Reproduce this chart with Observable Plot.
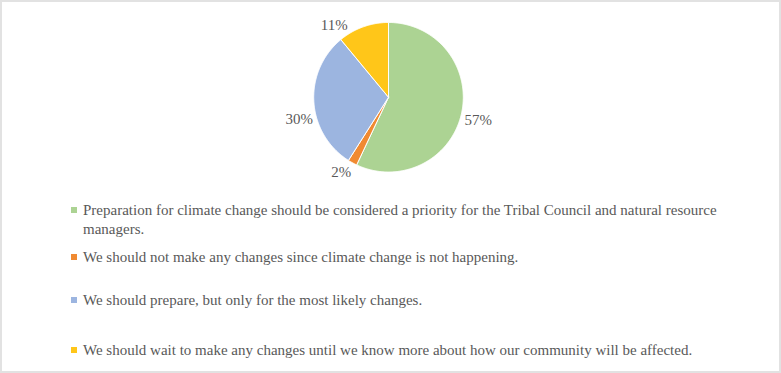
<!DOCTYPE html>
<html>
<head>
<meta charset="utf-8">
<script src="https://cdn.jsdelivr.net/npm/d3@7"></script>
<script src="https://cdn.jsdelivr.net/npm/@observablehq/plot@0.6"></script>
<style>
  html, body { margin: 0; padding: 0; background: #fff; }
  #frame { position: absolute; left: 0; top: 0; width: 777px; height: 369px; border: 2px solid #e2e2e2; background: #fff; overflow: hidden; }
  #chart { position: absolute; left: -2px; top: -2px; }
  .legend { position: absolute; left: 69px; font-family: "Liberation Serif", "Times New Roman", serif; font-size: 15px; color: #595959; line-height: 19px; width: 650px; }
  .legend .sw { position: absolute; left: 0; top: 6px; width: 6px; height: 6px; }
  .legend .tx { margin-left: 12px; display: block; }
</style>
</head>
<body>
<div id="frame"><div id="chart"></div></div>
<script>
const categories = [
  "Preparation for climate change should be considered a priority for the Tribal Council and natural resource managers.",
  "We should not make any changes since climate change is not happening.",
  "We should prepare, but only for the most likely changes.",
  "We should wait to make any changes until we know more about how our community will be affected."
];
const shares = [57, 2, 30, 11];
const labels = ["57%", "2%", "30%", "11%"];
const colors = ["#acd393", "#f08a32", "#9cb5e0", "#ffc619"];

const W = 781, H = 373;
const cx = 389, cy = 97, R = 75;

// pie geometry from data (unit circle, clockwise from top)
const pie = d3.pie().sort(null).value(d => d)(shares);
const polys = [];
pie.forEach((p, i) => {
  polys.push({k: i, x: 0, y: 0});
  const n = Math.max(4, Math.ceil((p.endAngle - p.startAngle) / 0.01));
  for (let j = 0; j <= n; j++) {
    const a = p.startAngle + (p.endAngle - p.startAngle) * j / n;
    polys.push({k: i, x: Math.sin(a), y: Math.cos(a)});
  }
  polys.push({k: i, x: 0, y: 0});
});
// label placement (best-fit outside the rim): radius factor and angular nudge in degrees
const labelR = [1.24, 1.19, 1.23, 1.21];
const labelShift = [2.0, 3.3, -10.5, -17.1];
const labelData = pie.map((p, i) => {
  const a = (p.startAngle + p.endAngle) / 2 + labelShift[i] * Math.PI / 180;
  return {text: labels[i], x: Math.sin(a) * labelR[i], y: Math.cos(a) * labelR[i]};
});

const chart = Plot.plot({
  width: W, height: H,
  margin: 0,
  x: {domain: [-cx / R, (W - cx) / R], range: [0, W], axis: null},
  y: {domain: [cy / R, -(H - cy) / R], range: [0, H], axis: null},
  color: {domain: d3.range(shares.length), range: colors},
  marks: [
    Plot.line(polys, {x: "x", y: "y", z: "k", fill: "k", stroke: "#ffffff", strokeWidth: 1, strokeLinejoin: "round", curve: "linear"}),
    Plot.text(labelData, {x: "x", y: "y", text: "text", fontSize: 15, fill: "#595959", fontFamily: "Liberation Serif, Times New Roman, serif"})
  ]
});
document.getElementById("chart").appendChild(chart);

const rowTops = [201, 248, 291, 341];
const frame = document.getElementById("frame");
categories.forEach((c, i) => {
  const div = document.createElement("div");
  div.className = "legend";
  div.style.top = (rowTops[i] - 2) + "px";
  div.innerHTML = `<span class="sw" style="background:${colors[i]}"></span><span class="tx"></span>`;
  div.querySelector(".tx").textContent = c;
  frame.appendChild(div);
});
</script>
</body>
</html>
